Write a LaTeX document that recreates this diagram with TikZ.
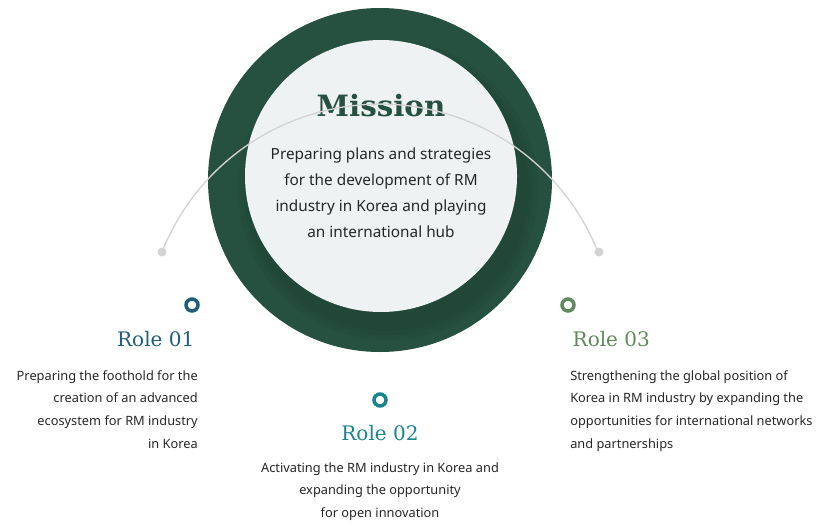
\documentclass[tikz,border=0pt]{standalone}
\usepackage{fontspec}
\setmainfont{Noto Sans}
\newfontfamily\slab{DejaVu Serif}
\usetikzlibrary{positioning}
\definecolor{mgreen}{HTML}{26503F}
\definecolor{mshade}{HTML}{1C3D30}
\definecolor{mfill}{HTML}{EEF2F3}
\definecolor{rone}{HTML}{1E5F78}
\definecolor{rtwo}{HTML}{17858C}
\definecolor{rthree}{HTML}{5F8A5C}
\definecolor{arcgray}{HTML}{D3D3D3}
\tikzset{
	role/.style={font=\slab\fontsize{15}{18}\selectfont},
	body/.style={font=\fontsize{9.6}{17}\selectfont, text=black!85, inner sep=0pt},
	ring/.style={circle, draw=#1, line width=2.6pt, fill=white, minimum size=9pt, inner sep=0pt},
}
\begin{document}
\begin{tikzpicture}[x=0.75pt,y=-0.75pt]
	\useasboundingbox (0,0) rectangle (830,524);
	% Mission circle
	\fill[mgreen] (380,180) circle (172);
	\foreach \r/\o in {150/0.12, 145/0.15, 141/0.2} {
		\fill[mshade, opacity=\o] (388,190) circle (\r);
	}
	\fill[mfill] (381,176) circle (136);
	\node[font=\slab\bfseries\fontsize{22}{26}\selectfont, text=mgreen] (mission) at (381,106) {Mission};
	\node[align=center, font=\fontsize{11.5}{19.5}\selectfont, text=black!85] (missiontext) at (381,193)
		{Preparing plans and strategies\\for the development of RM\\industry in Korea and playing\\an international hub};
	
	% Arc and roles
	\coordinate (arcstart) at (162,252);
	\draw[arcgray, line width=1pt] (arcstart) arc[start angle=201.7, end angle=338.3, radius=234.6];
	\fill[arcgray] (arcstart) circle (4.5);
	\fill[arcgray] (599,252) circle (4.5);
	\node[ring=rone] (dotone) at (192,305) {};
	\node[ring=rtwo] (dottwo) at (380,400) {};
	\node[ring=rthree] (dotthree) at (568,305) {};
	
	\node[role, text=rone, anchor=east] (roleone) at (199,339) {Role 01};
	\node[body, align=right, anchor=north east] (textone) at (198,370)
		{Preparing the foothold for the\\creation of an advanced\\ecosystem for RM industry\\in Korea};
	\node[role, text=rtwo] (roletwo) at (380,433) {Role 02};
	\node[body, align=center, anchor=north] (texttwo) at (380,462)
		{Activating the RM industry in Korea and\\expanding the opportunity\\for open innovation};
	\node[role, text=rthree, anchor=west] (rolethree) at (568,339) {Role 03};
	\node[body, align=left, anchor=north west] (textthree) at (570,370)
		{Strengthening the global position of\\Korea in RM industry by expanding the\\opportunities for international networks\\and partnerships};
\end{tikzpicture}
\end{document}
